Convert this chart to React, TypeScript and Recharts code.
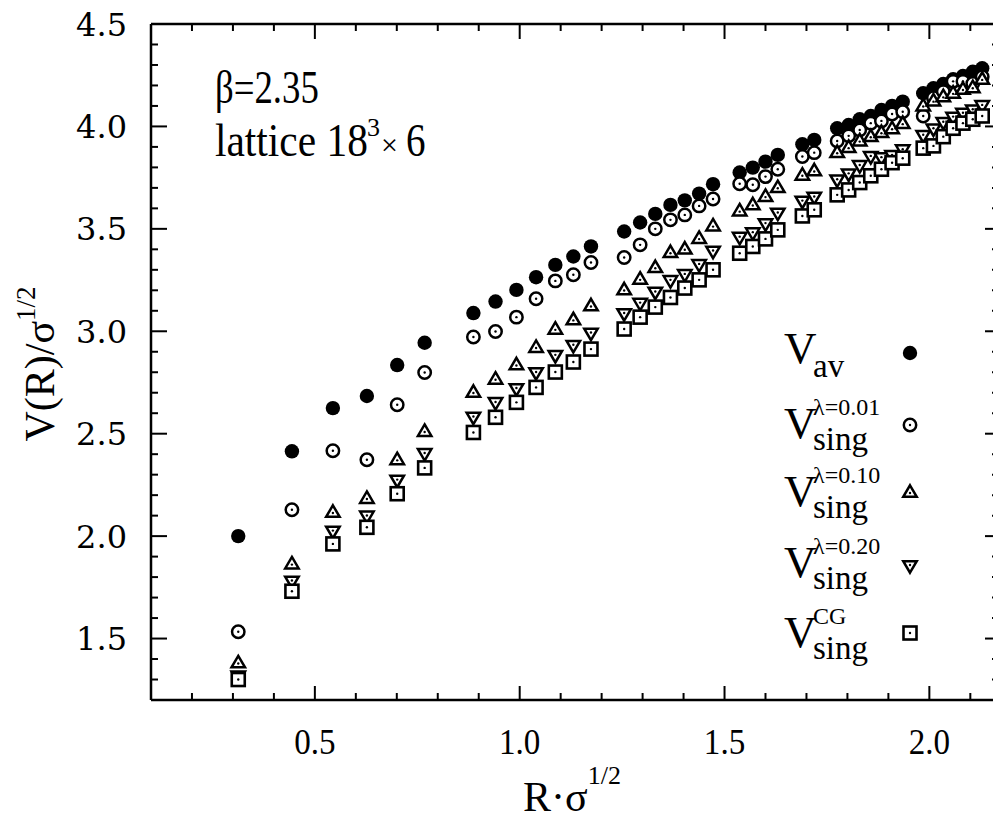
import React from 'react';
import { ScatterChart, Scatter, XAxis, YAxis } from 'recharts';

// R * sigma^(1/2) positions
const R_SIGMA = [0.313, 0.444, 0.544, 0.627, 0.701, 0.768, 0.887, 0.941, 0.992, 1.040, 1.087, 1.131, 1.174, 1.255, 1.294, 1.331, 1.368, 1.403, 1.438, 1.472, 1.537, 1.569, 1.600, 1.630, 1.690, 1.719, 1.775, 1.803, 1.830, 1.857, 1.883, 1.909, 1.935, 1.985, 2.010, 2.034, 2.058, 2.082, 2.106, 2.129];

const V_AV = [2.00, 2.414, 2.625, 2.684, 2.835, 2.944, 3.089, 3.145, 3.202, 3.264, 3.324, 3.365, 3.414, 3.487, 3.531, 3.573, 3.617, 3.639, 3.672, 3.718, 3.775, 3.799, 3.828, 3.861, 3.913, 3.934, 3.991, 4.007, 4.035, 4.051, 4.080, 4.100, 4.121, 4.162, 4.186, 4.207, 4.230, 4.246, 4.267, 4.284];
const V_L001 = [1.533, 2.129, 2.417, 2.373, 2.641, 2.799, 2.972, 2.999, 3.069, 3.159, 3.246, 3.276, 3.336, 3.360, 3.422, 3.500, 3.544, 3.568, 3.612, 3.646, 3.720, 3.715, 3.755, 3.791, 3.853, 3.872, 3.929, 3.954, 3.983, 4.016, 4.027, 4.061, 4.072, 4.051, 4.140, 4.170, 4.220, 4.220, 4.210, 4.243];
const V_L010 = [1.378, 1.861, 2.113, 2.181, 2.370, 2.508, 2.699, 2.763, 2.833, 2.918, 3.007, 3.053, 3.121, 3.199, 3.251, 3.308, 3.381, 3.398, 3.450, 3.511, 3.584, 3.614, 3.655, 3.698, 3.759, 3.780, 3.869, 3.894, 3.926, 3.947, 3.967, 3.986, 4.011, 4.097, 4.121, 4.142, 4.159, 4.178, 4.186, 4.227];
const V_L020 = [1.320, 1.783, 2.027, 2.101, 2.276, 2.406, 2.584, 2.655, 2.723, 2.801, 2.885, 2.934, 2.994, 3.089, 3.140, 3.194, 3.251, 3.280, 3.329, 3.394, 3.462, 3.484, 3.528, 3.580, 3.638, 3.658, 3.742, 3.771, 3.812, 3.856, 3.850, 3.861, 3.889, 3.959, 3.991, 4.023, 4.048, 4.067, 4.084, 4.105];
const V_CG = [1.300, 1.731, 1.962, 2.043, 2.207, 2.333, 2.506, 2.580, 2.653, 2.726, 2.801, 2.850, 2.913, 3.011, 3.069, 3.118, 3.165, 3.211, 3.251, 3.300, 3.381, 3.414, 3.451, 3.495, 3.563, 3.593, 3.666, 3.690, 3.726, 3.759, 3.791, 3.823, 3.845, 3.894, 3.905, 3.950, 3.991, 4.016, 4.035, 4.051];

const X_TICKS = [0.2, 0.3, 0.4, 0.5, 0.6, 0.7, 0.8, 0.9, 1.0, 1.1, 1.2, 1.3, 1.4, 1.5, 1.6, 1.7, 1.8, 1.9, 2.0, 2.1];
const X_MAJOR = [0.5, 1.0, 1.5, 2.0];
const Y_TICKS = [1.3, 1.4, 1.5, 1.6, 1.7, 1.8, 1.9, 2.0, 2.1, 2.2, 2.3, 2.4, 2.5, 2.6, 2.7, 2.8, 2.9, 3.0, 3.1, 3.2, 3.3, 3.4, 3.5, 3.6, 3.7, 3.8, 3.9, 4.0, 4.1, 4.2, 4.3, 4.4, 4.5];
const Y_MAJOR = [1.5, 2.0, 2.5, 3.0, 3.5, 4.0, 4.5];

const X_DOMAIN = [0.1, 2.17];
const Y_DOMAIN = [1.2, 4.5];

const SERIF = '"Liberation Serif", "Times New Roman", serif';
const WIDE_SERIF = '"DejaVu Serif", serif';
const MAJOR_LEN = 14;
const MINOR_LEN = 7;
const SW = 2.5;

const isMajor = (v: number, list: number[]) => list.some((m) => Math.abs(m - v) < 1e-6);

const mk = (ys: number[]) => R_SIGMA.map((r, i) => ({ x: r, y: ys[i] }));

// marker shapes
const FilledDot = (p: any) => <circle cx={p.cx} cy={p.cy} r={7.2} fill="#000" />;
const OpenDot = (p: any) => (
  <g>
    <circle cx={p.cx} cy={p.cy} r={6.2} fill="#fff" stroke="#000" strokeWidth={SW} />
    <circle cx={p.cx} cy={p.cy} r={1.2} fill="#000" />
  </g>
);
const UpTri = (p: any) => {
  const w = 13.5, h = 11.5;
  const { cx, cy } = p;
  const d = `M${cx},${cy - (2 * h) / 3} L${cx + w / 2},${cy + h / 3} L${cx - w / 2},${cy + h / 3} Z`;
  return (
    <g>
      <path d={d} fill="#fff" stroke="#000" strokeWidth={SW} strokeLinejoin="miter" />
      <circle cx={cx} cy={cy} r={1.2} fill="#000" />
    </g>
  );
};
const DownTri = (p: any) => {
  const w = 13.5, h = 11.5;
  const { cx, cy } = p;
  const d = `M${cx},${cy + (2 * h) / 3} L${cx + w / 2},${cy - h / 3} L${cx - w / 2},${cy - h / 3} Z`;
  return (
    <g>
      <path d={d} fill="#fff" stroke="#000" strokeWidth={SW} strokeLinejoin="miter" />
      <circle cx={cx} cy={cy} r={1.2} fill="#000" />
    </g>
  );
};
const SquareDot = (p: any) => {
  const s = 13;
  return (
    <g>
      <rect x={p.cx - s / 2} y={p.cy - s / 2} width={s} height={s} fill="#fff" stroke="#000" strokeWidth={2.6} />
      <circle cx={p.cx} cy={p.cy} r={1.2} fill="#000" />
    </g>
  );
};

// ticks (inward)
const BottomTick = (props: any) => {
  const { x, y, payload } = props;
  const v = payload.value;
  const major = isMajor(v, X_MAJOR);
  return (
    <g>
      <line x1={x} y1={y} x2={x} y2={y - (major ? MAJOR_LEN : MINOR_LEN)} stroke="#000" strokeWidth={2} />
      {major && (
        <g transform={`translate(${x} ${y + 54}) scale(0.92 1)`}>
          <text x={0} y={0} textAnchor="middle" fontFamily={SERIF} fontSize={36} fill="#000">
            {v.toFixed(1)}
          </text>
        </g>
      )}
    </g>
  );
};
const TopTick = (props: any) => {
  const { x, y, payload } = props;
  const major = isMajor(payload.value, X_MAJOR);
  return <line x1={x} y1={y} x2={x} y2={y + (major ? MAJOR_LEN + 1 : MINOR_LEN)} stroke="#000" strokeWidth={2} />;
};
const LeftTick = (props: any) => {
  const { x, y, payload } = props;
  const v = payload.value;
  const major = isMajor(v, Y_MAJOR);
  return (
    <g>
      <line x1={x} y1={y} x2={x + (major ? MAJOR_LEN + 2 : MINOR_LEN)} y2={y} stroke="#000" strokeWidth={2} />
      {major && (
        <text x={x - 24} y={y + 11.5} textAnchor="end" fontFamily={WIDE_SERIF} fontSize={32} fill="#000">
          {v.toFixed(1)}
        </text>
      )}
    </g>
  );
};
const RightTick = (props: any) => {
  const { x, y, payload } = props;
  const major = isMajor(payload.value, Y_MAJOR);
  return <line x1={x} y1={y} x2={x - (major ? MAJOR_LEN : MINOR_LEN)} y2={y} stroke="#000" strokeWidth={2} />;
};

const axisLine = { stroke: '#000', strokeWidth: 2.5 };

const LEGEND = [
  { sup: '', sub: 'av', Shape: FilledDot, vBase: 363, mark: 353 },
  { sup: 'λ=0.01', sub: 'sing', Shape: OpenDot, vBase: 438, mark: 425 },
  { sup: 'λ=0.10', sub: 'sing', Shape: UpTri, vBase: 506, mark: 493 },
  { sup: 'λ=0.20', sub: 'sing', Shape: DownTri, vBase: 577, mark: 565 },
  { sup: 'CG', sub: 'sing', Shape: SquareDot, vBase: 647, mark: 633 },
];

export default function App() {
  return (
    <div style={{ position: 'absolute', left: 0, top: 0, width: 993, height: 821, overflow: 'hidden', background: '#fff' }}>
      <ScatterChart width={1010} height={821} margin={{ top: 23, right: 0, bottom: 0, left: 0 }}>
        <XAxis
          xAxisId="b"
          dataKey="x"
          type="number"
          orientation="bottom"
          domain={X_DOMAIN}
          allowDataOverflow
          ticks={X_TICKS}
          interval={0}
          height={121}
          tickSize={0}
          tickMargin={0}
          tickLine={false}
          axisLine={axisLine}
          tick={<BottomTick />}
        />
        <XAxis
          xAxisId="t"
          dataKey="x"
          type="number"
          orientation="top"
          domain={X_DOMAIN}
          allowDataOverflow
          ticks={X_TICKS}
          interval={0}
          height={1}
          tickSize={0}
          tickMargin={0}
          tickLine={false}
          axisLine={axisLine}
          tick={<TopTick />}
        />
        <YAxis
          yAxisId="l"
          dataKey="y"
          type="number"
          orientation="left"
          domain={Y_DOMAIN}
          allowDataOverflow
          ticks={Y_TICKS}
          interval={0}
          width={151}
          tickSize={0}
          tickMargin={0}
          tickLine={false}
          axisLine={axisLine}
          tick={<LeftTick />}
        />
        <YAxis
          yAxisId="r"
          dataKey="y"
          type="number"
          orientation="right"
          domain={Y_DOMAIN}
          allowDataOverflow
          ticks={Y_TICKS}
          interval={0}
          width={11}
          tickSize={0}
          tickMargin={0}
          tickLine={false}
          axisLine={axisLine}
          tick={<RightTick />}
        />
        <Scatter xAxisId="b" yAxisId="l" data={mk(V_AV)} shape={FilledDot} isAnimationActive={false} />
        <Scatter xAxisId="b" yAxisId="l" data={mk(V_L001)} shape={OpenDot} isAnimationActive={false} />
        <Scatter xAxisId="b" yAxisId="l" data={mk(V_L010)} shape={UpTri} isAnimationActive={false} />
        <Scatter xAxisId="b" yAxisId="l" data={mk(V_L020)} shape={DownTri} isAnimationActive={false} />
        <Scatter xAxisId="b" yAxisId="l" data={mk(V_CG)} shape={SquareDot} isAnimationActive={false} />

        {/* axis titles */}
        <text transform="rotate(-90 54 364)" x={54} y={364} textAnchor="middle" fontFamily={SERIF} fontSize={42} fill="#000">
          V(R)/σ<tspan fontSize={27} dy={-19}>1/2</tspan>
        </text>
        <text x={572} y={811} textAnchor="middle" fontFamily={SERIF} fontSize={42} fill="#000">
          R·σ<tspan fontSize={26} dy={-27}>1/2</tspan>
        </text>

        {/* annotations */}
        <g transform="translate(215 103) scale(0.8 1)">
          <text x={0} y={0} fontFamily={SERIF} fontSize={46} fill="#000">β=2.35</text>
        </g>
        <g transform="translate(215 156) scale(0.9 1)">
          <text x={0} y={0} fontFamily={SERIF} fontSize={46} fill="#000">lattice 18</text>
        </g>
        <text x={367} y={136} fontFamily={SERIF} fontSize={26} fill="#000">3</text>
        <text x={381} y={155} fontFamily={SERIF} fontSize={30} fill="#000">×</text>
        <g transform="translate(406 156) scale(0.85 1)">
          <text x={0} y={0} fontFamily={SERIF} fontSize={46} fill="#000">6</text>
        </g>

        {/* legend */}
        {LEGEND.map((e, i) => {
          const Shape = e.Shape;
          return (
            <g key={i}>
              <text x={784} y={e.vBase} fontFamily={SERIF} fontSize={45} fill="#000">V</text>
              {e.sup && (
                <text x={813} y={e.vBase - 23} fontFamily={SERIF} fontSize={24} fill="#000">{e.sup}</text>
              )}
              <text x={813} y={e.vBase + (i === 0 ? 14 : 12)} fontFamily={SERIF} fontSize={33} fill="#000">{e.sub}</text>
              <Shape cx={910} cy={e.mark} />
            </g>
          );
        })}
      </ScatterChart>
    </div>
  );
}
